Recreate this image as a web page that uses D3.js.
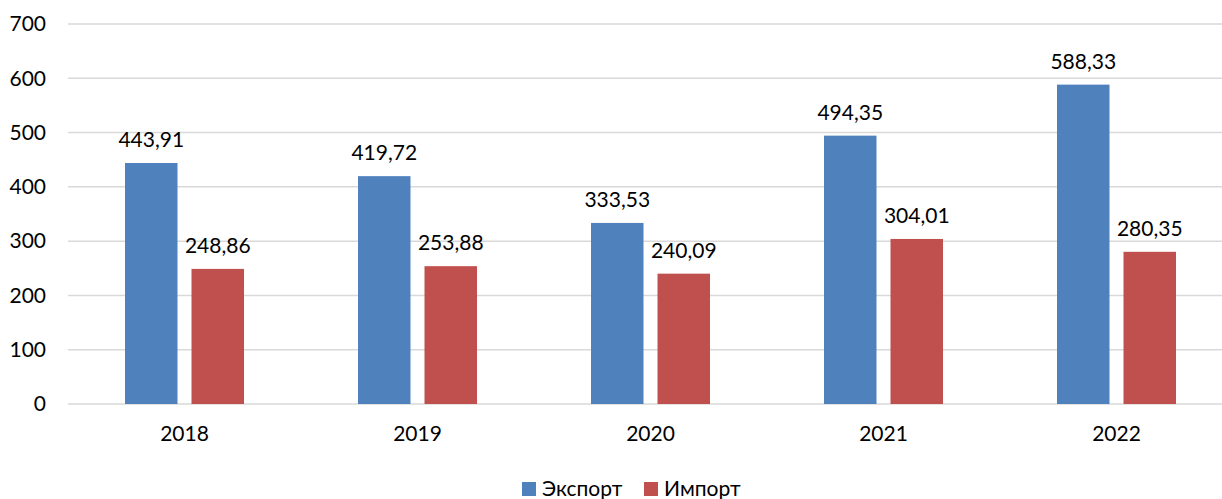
<!DOCTYPE html>
<html>
<head>
<meta charset="utf-8">
<script src="https://cdn.jsdelivr.net/npm/d3@7/dist/d3.min.js"></script>
<style>
  html, body { margin: 0; padding: 0; background: #fff; }
  svg { display: block; }
  text { font-family: Lato, "Open Sans", sans-serif; fill: #000; }
</style>
</head>
<body>
<svg id="chart" width="1222" height="499"></svg>
<script>
// Chart data
const years = ["2018", "2019", "2020", "2021", "2022"];
const exportValues = [443.91, 419.72, 333.53, 494.35, 588.33];
const importValues = [248.86, 253.88, 240.09, 304.01, 280.35];
const seriesNames = ["Экспорт", "Импорт"];
const seriesColors = ["#4f81bd", "#c0504d"];
const yTicks = [0, 100, 200, 300, 400, 500, 600, 700];

const FONT_SIZE = "21px";
const FONT = "Lato, 'Open Sans', sans-serif";

const svg = d3.select("#chart");
const fmt = v => d3.format(".2f")(v).replace(".", ",");

const plot = { left: 68, right: 1233, top: 24, bottom: 404 };

const x = d3.scaleBand()
  .domain(years)
  .range([plot.left, plot.right])
  .paddingInner(0)
  .paddingOuter(0);

const y = d3.scaleLinear()
  .domain([0, 700])
  .range([plot.bottom, plot.top]);

// Bars within each year: two bars with a small gap, centered in the band
const barW = 52.5, barGap = 14;
const sub = d3.scaleOrdinal()
  .domain(seriesNames)
  .range([-(barGap / 2 + barW), barGap / 2]);

// Gridlines
svg.append("g")
  .selectAll("line")
  .data(yTicks)
  .join("line")
  .attr("x1", plot.left)
  .attr("x2", plot.right)
  .attr("y1", d => y(d))
  .attr("y2", d => y(d))
  .attr("stroke", "#d9d9d9")
  .attr("stroke-width", 1.5);

// Y axis labels
const yAxis = d3.axisLeft(y).tickValues(yTicks).tickSize(0).tickPadding(22);
const gy = svg.append("g")
  .attr("transform", `translate(${plot.left},0)`)
  .call(yAxis);
gy.select(".domain").remove();
gy.selectAll("text").style("font-size", FONT_SIZE).attr("font-family", FONT).attr("fill", "#000");

// X axis labels
const xAxis = d3.axisBottom(x).tickSize(0).tickPadding(22);
const gx = svg.append("g")
  .attr("transform", `translate(0,${plot.bottom})`)
  .call(xAxis);
gx.select(".domain").remove();
gx.selectAll("text").style("font-size", FONT_SIZE).attr("font-family", FONT).attr("fill", "#000");

const rows = years.map((yr, i) => [
  { year: yr, series: seriesNames[0], value: exportValues[i], color: seriesColors[0] },
  { year: yr, series: seriesNames[1], value: importValues[i], color: seriesColors[1] }
]).flat();

// Bars
svg.append("g")
  .selectAll("rect")
  .data(rows)
  .join("rect")
  .attr("x", d => x(d.year) + x.bandwidth() / 2 + sub(d.series))
  .attr("width", barW)
  .attr("y", d => y(d.value))
  .attr("height", d => y(0) - y(d.value))
  .attr("fill", d => d.color);

// Value labels
svg.append("g")
  .selectAll("text")
  .data(rows)
  .join("text")
  .attr("x", d => x(d.year) + x.bandwidth() / 2 + sub(d.series) + barW / 2)
  .attr("y", d => y(d.value) - 16)
  .attr("text-anchor", "middle")
  .style("font-size", FONT_SIZE)
  .text(d => fmt(d.value));

// Legend
const legend = svg.append("g");
const legendItems = [
  { name: seriesNames[0], color: seriesColors[0], x: 522 },
  { name: seriesNames[1], color: seriesColors[1], x: 644 }
];
const li = legend.selectAll("g").data(legendItems).join("g")
  .attr("transform", d => `translate(${d.x},482)`);
li.append("rect").attr("width", 14).attr("height", 14).attr("fill", d => d.color);
li.append("text").attr("x", 20).attr("y", 14).style("font-size", FONT_SIZE).text(d => d.name);
</script>
</body>
</html>
